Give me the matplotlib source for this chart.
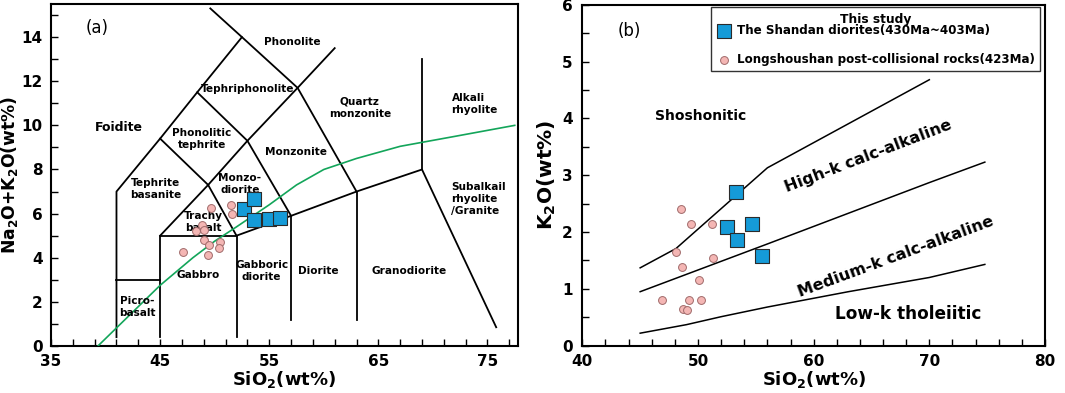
import numpy as np
import matplotlib.pyplot as plt

# ---- panel (a) data: TAS (Middlemost 1994) ----
shandan_tas_si = [52.7, 53.6, 53.6, 55.0, 56.0]
shandan_tas_alk = [6.23, 6.68, 5.70, 5.76, 5.78]
longshou_tas_si = [49.7, 51.5, 51.6, 48.8, 48.3, 49.0, 49.0, 49.5, 50.5, 50.35, 49.35, 47.1]
longshou_tas_alk = [6.24, 6.38, 5.99, 5.47, 5.19, 5.24, 4.82, 4.56, 4.70, 4.42, 4.12, 4.26]

tas_lines = [
    [(41, 0.4), (41, 7), (45, 9.4), (48.4, 11.5), (52.5, 14), (49.6, 15.3)],
    [(41, 3), (45, 3)],
    [(45, 0.4), (45, 5), (52, 5), (52, 0.4)],
    [(52, 5), (57, 5.9), (63, 7), (69, 8), (75.8, 0.85)],
    [(57, 1.2), (57, 5.9)],
    [(63, 1.2), (63, 7)],
    [(69, 8), (69, 13)],
    [(45, 5), (49.4, 7.3), (52, 5)],
    [(45, 9.4), (49.4, 7.3)],
    [(48.4, 11.5), (53, 9.3), (57, 5.9)],
    [(49.4, 7.3), (53, 9.3), (57.6, 11.7), (61, 13.5)],
    [(52.5, 14), (57.6, 11.7), (63, 7)],
]
alk_boundary_si = [39.3, 45, 48, 50, 52, 55, 57.5, 60, 63, 67, 72, 77.5]
alk_boundary_alk = [0, 2.75, 4.0, 4.75, 5.4, 6.4, 7.3, 8.0, 8.5, 9.05, 9.5, 10.0]

tas_labels = [
    ("Phonolite", 57.1, 13.8), ("Tephriphonolite", 53.0, 11.67),
    ("Quartz\nmonzonite", 63.3, 10.8), ("Alkali\nrhyolite", 73.6, 10.95),
    ("Foidite", 41.2, 9.9), ("Phonolitic\ntephrite", 48.8, 9.36),
    ("Monzonite", 57.45, 8.8), ("Tephrite\nbasanite", 44.6, 7.1),
    ("Monzo-\ndiorite", 52.3, 7.36), ("Subalkail\nrhyolite\n/Granite", 73.8, 6.68),
    ("Trachy\nbasalt", 49.0, 5.6), ("Gabbro", 48.5, 3.2),
    ("Gabboric\ndiorite", 54.3, 3.38), ("Diorite", 59.5, 3.4),
    ("Granodiorite", 67.8, 3.4), ("Picro-\nbasalt", 42.9, 1.76),
]

# ---- panel (b) data: K2O vs SiO2 (Peccerillo & Taylor) ----
shandan_k_si = [53.26, 52.48, 54.7, 53.34, 55.56]
shandan_k2o = [2.71, 2.09, 2.15, 1.86, 1.58]
longshou_k_si = [48.53, 49.37, 51.2, 48.07, 48.65, 51.33, 50.09, 46.86, 49.25, 50.23, 48.73, 49.08]
longshou_k2o = [2.40, 2.15, 2.15, 1.65, 1.39, 1.55, 1.15, 0.80, 0.80, 0.81, 0.645, 0.62]

sho_si = [45, 48.1, 56, 70]
sho_k = [1.37, 1.71, 3.13, 4.68]
highk_si = [45, 56, 63, 70, 74.8]
highk_k = [0.95, 1.79, 2.33, 2.87, 3.23]
lowk_si = [45, 49, 52, 56, 63, 70, 74.8]
lowk_k = [0.22, 0.37, 0.51, 0.68, 0.95, 1.2, 1.43]

sq_face, sq_edge = '#159bd8', '#2b2b2b'
ci_face, ci_edge = '#f4b6b4', '#a06a6a'

plt.rcParams['font.family'] = 'DejaVu Sans'
plt.rcParams['font.weight'] = 'bold'

fig = plt.figure(figsize=(10.65, 3.93), dpi=100)
ax1 = fig.add_axes([0.0479, 0.1196, 0.4385, 0.8702])
ax2 = fig.add_axes([0.5468, 0.1204, 0.4344, 0.8676])

# panel (a)
for seg in tas_lines:
    xs, ys = zip(*seg)
    ax1.plot(xs, ys, color='black', lw=1.3, zorder=2)
ax1.plot(alk_boundary_si, alk_boundary_alk, color='#13a55a', lw=1.2, zorder=3)
for txt, x, y in tas_labels:
    ha = 'left' if txt.startswith(('Subalkail', 'Alkali')) else 'center'
    if ha == 'left':
        x = 71.7
    fs = 9 if txt == 'Foidite' else 7.6
    ax1.text(x, y, txt, ha=ha, va='center', fontsize=fs, fontweight='bold',
             linespacing=1.25, zorder=4)
ax1.scatter(longshou_tas_si, longshou_tas_alk, s=32, marker='o', facecolor=ci_face,
            edgecolor=ci_edge, linewidth=0.7, zorder=5)
ax1.scatter(shandan_tas_si, shandan_tas_alk, s=95, marker='s', facecolor=sq_face,
            edgecolor=sq_edge, linewidth=0.8, zorder=6)
ax1.text(39.2, 14.4, "(a)", fontsize=12, fontweight='normal', ha='center', va='center')
ax1.set_xlim(35, 77.8)
ax1.set_ylim(0, 15.5)
ax1.set_xticks([35, 45, 55, 65, 75])
ax1.set_xticks(np.arange(35, 78, 2), minor=True)
ax1.set_yticks(np.arange(0, 15, 2))
ax1.set_yticks(np.arange(0, 16, 1), minor=True)
ax1.set_xlabel(r'SiO$_\mathbf{2}$(wt%)', fontsize=13, fontweight='bold', labelpad=0)
ax1.set_ylabel(r'Na$_\mathbf{2}$O+K$_\mathbf{2}$O(wt%)', fontsize=12.3, fontweight='bold')
ax1.yaxis.set_label_coords(-0.066, 0.5)

# panel (b)
for xs, ys in [(sho_si, sho_k), (highk_si, highk_k), (lowk_si, lowk_k)]:
    ax2.plot(xs, ys, color='black', lw=1.1, zorder=2)
ax2.scatter(longshou_k_si, longshou_k2o, s=32, marker='o', facecolor=ci_face,
            edgecolor=ci_edge, linewidth=0.7, zorder=5,
            label='Longshoushan post-collisional rocks(423Ma)')
ax2.scatter(shandan_k_si, shandan_k2o, s=95, marker='s', facecolor=sq_face,
            edgecolor=sq_edge, linewidth=0.8, zorder=6,
            label='The Shandan diorites(430Ma~403Ma)')
ax2.text(44.1, 5.54, "(b)", fontsize=12, fontweight='normal', ha='center', va='center')
ax2.text(50.2, 4.05, "Shoshonitic", fontsize=10, fontweight='bold', ha='center', va='center')
ax2.text(64.7, 3.33, "High-k calc-alkaline", fontsize=11.5, fontweight='bold',
         ha='center', va='center', rotation=21, rotation_mode='anchor')
ax2.text(67.1, 1.57, "Medium-k calc-alkaline", fontsize=11.5, fontweight='bold',
         ha='center', va='center', rotation=20.3, rotation_mode='anchor')
ax2.text(68.2, 0.56, "Low-k tholeiitic", fontsize=12.2, fontweight='bold',
         ha='center', va='center')
handles, labels = ax2.get_legend_handles_labels()
leg = ax2.legend(handles[::-1], labels[::-1], title='This study', loc='upper right',
                 bbox_to_anchor=(0.989, 0.992), borderaxespad=0, fancybox=False,
                 edgecolor='#333333', framealpha=1, fontsize=8.6, title_fontsize=8.8,
                 handletextpad=0.5, labelspacing=1.3, borderpad=0.45, handlelength=1.2)
leg.get_frame().set_linewidth(1.0)
for t in leg.get_texts():
    t.set_fontweight('bold')
leg.get_title().set_fontweight('bold')
leg._legend_box.sep = -1
ax2.set_xlim(40, 80)
ax2.set_ylim(0, 6)
ax2.set_xticks([40, 50, 60, 70, 80])
ax2.set_xticks(np.arange(40, 81, 2), minor=True)
ax2.set_yticks(np.arange(0, 7, 1))
ax2.set_yticks(np.arange(0, 6.1, 0.5), minor=True)
ax2.set_xlabel(r'SiO$_\mathbf{2}$(wt%)', fontsize=13, fontweight='bold', labelpad=0)
ax2.set_ylabel(r'K$_\mathbf{2}$O(wt%)', fontsize=14.5, fontweight='bold', labelpad=3)

for ax in (ax1, ax2):
    for sp in ax.spines.values():
        sp.set_linewidth(1.5)
    ax.tick_params(which='both', direction='in', width=1.0, labelsize=11)
    ax.tick_params(axis='x', pad=6)
    ax.tick_params(axis='y', pad=7 if ax is ax2 else 6)
    ax.tick_params(which='major', length=5)
    ax.tick_params(which='minor', length=5)
    ax.tick_params(top=False, right=False)
    for lab in ax.get_xticklabels() + ax.get_yticklabels():
        lab.set_fontweight('bold')

fig.savefig('out.png', dpi=100)
